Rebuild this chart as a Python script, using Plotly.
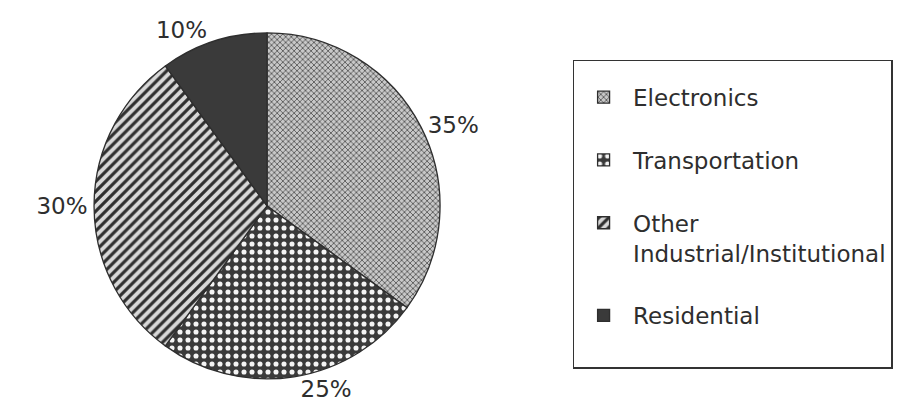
import plotly.graph_objects as go

categories = ["Electronics", "Transportation", "Other<br>Industrial/Institutional", "Residential"]
shares = [35, 25, 30, 10]
pattern_shapes = ["x", ".", "/", ""]
pattern_fg = ["#5a5a5a", "#f4f4f4", "#2e2e2e", "#3a3a3a"]
pattern_bg = ["#c8c8c8", "#3a3a3a", "#d8d8d8", "#3a3a3a"]
pattern_size = [4, 8, 7, 8]
pattern_solidity = [0.4, 0.32, 0.45, 0.5]

# legend spacing: a trailing blank line per entry
legend_labels = [c + "<br> " for c in categories]

FONT = "DejaVu Sans"

fig = go.Figure(
    go.Pie(
        labels=legend_labels,
        values=shares,
        sort=False,
        direction="clockwise",
        rotation=0,
        texttemplate="%{value}%",
        textposition="outside",
        textfont=dict(family=FONT, size=23, color="#2e2e2e"),
        marker=dict(
            colors=pattern_bg,
            line=dict(color="#2e2e2e", width=1.3),
            pattern=dict(
                shape=pattern_shapes,
                fgcolor=pattern_fg,
                bgcolor=pattern_bg,
                size=pattern_size,
                solidity=pattern_solidity,
                fillmode="replace",
            ),
        ),
        domain=dict(x=[0.1038, 0.4857], y=[0.089, 0.921]),
        showlegend=True,
        hoverinfo="skip",
    )
)

fig.update_layout(
    width=906,
    height=416,
    margin=dict(l=0, r=0, t=0, b=0),
    paper_bgcolor="white",
    plot_bgcolor="white",
    font=dict(family=FONT, size=23, color="#2e2e2e"),
    legend=dict(
        x=0.632,
        y=0.856,
        xanchor="left",
        yanchor="top",
        bordercolor="#333333",
        borderwidth=1.5,
        bgcolor="white",
        valign="top",
        itemwidth=49,
        title=dict(text="\u00a0", font=dict(family=FONT, size=11)),
        font=dict(family=FONT, size=23, color="#2e2e2e"),
        itemclick=False,
    ),
)

fig.write_html("out.html")
